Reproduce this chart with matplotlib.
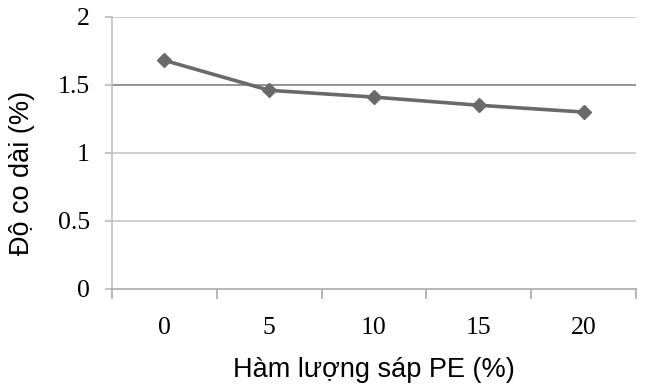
import matplotlib
matplotlib.use("Agg")
import matplotlib.pyplot as plt
import numpy as np

categories = ["0", "5", "10", "15", "20"]
values = [1.68, 1.46, 1.41, 1.35, 1.30]
yticks = [0, 0.5, 1, 1.5, 2]
ytick_labels = ["0", "0.5", "1", "1.5", "2"]

fig = plt.figure(figsize=(6.51, 3.91), dpi=100)
ax = fig.add_axes([0.172, 0.261, 0.805, 0.696])

x = np.arange(len(categories))
ax.plot(x, values, color="#6a6a6a", lw=2.6, marker="D", ms=7.5, mfc="#6a6a6a", mec="#6a6a6a", zorder=3)

ax.set_xlim(-0.5, len(categories) - 0.5)
ax.set_ylim(0, 2)
ax.set_yticks(yticks)
ax.set_yticklabels(ytick_labels, fontfamily="Liberation Serif", fontsize=18.5)
ax.set_xticks(x)
ax.set_xticklabels(categories, fontfamily="Liberation Serif", fontsize=18.5)
ax.set_xticks(np.arange(-0.5, len(categories)), minor=True)
ax.tick_params(axis="x", which="major", length=0, pad=20)
ax.tick_params(axis="x", which="minor", length=7, color="#aaaaaa", width=1.2)
ax.tick_params(axis="y", which="major", length=5, color="#bbbbbb", width=1.2, pad=11)

for yv in yticks:
    if yv == 0:
        continue
    c = "#8a8a8a" if yv == 1.5 else "#cccccc"
    ax.axhline(yv, color=c, lw=1.3, zorder=1)

for s in ["top", "right"]:
    ax.spines[s].set_visible(False)
ax.spines["left"].set_color("#c0c0c0")
ax.spines["left"].set_linewidth(1.2)
ax.spines["bottom"].set_color("#aaaaaa")
ax.spines["bottom"].set_linewidth(1.2)

ax.set_xlabel("Hàm lượng sáp PE (%)", fontfamily="Liberation Sans", fontsize=19.5, va="center")
ax.xaxis.set_label_coords(0.5, -0.298)
ax.set_ylabel("Độ co dài (%)", fontfamily="Liberation Sans", fontsize=19.5, va="center")
ax.yaxis.set_label_coords(-0.172, 0.426)

fig.savefig("out.png", dpi=100)
